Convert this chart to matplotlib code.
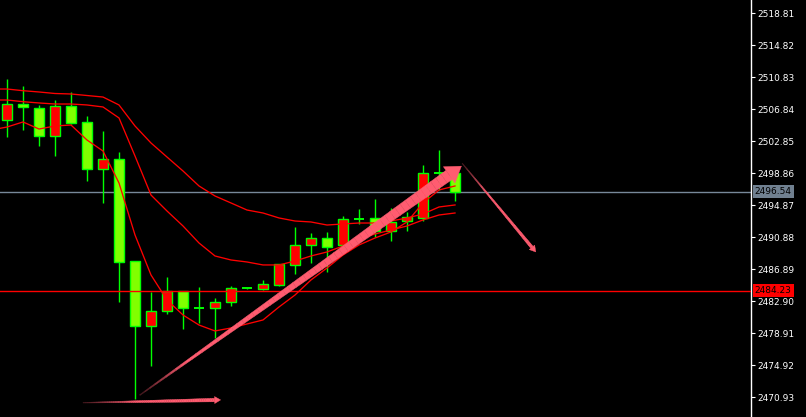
import matplotlib
matplotlib.use("Agg")
import matplotlib.pyplot as plt
import matplotlib.transforms as mtransforms
from matplotlib.patches import Polygon, Rectangle
import numpy as np

# candle data
opens  = [2505.51, 2507.50, 2507.00, 2503.51, 2507.25, 2505.26, 2499.40, 2500.64, 2487.92, 2479.82,
          2481.69, 2484.18, 2482.10, 2482.06, 2482.81, 2484.56, 2484.43, 2484.93, 2487.43, 2489.92,
          2490.79, 2489.92, 2493.16, 2493.29, 2491.67, 2492.91, 2493.29, 2498.90, 2498.90]
highs  = [2510.62, 2509.75, 2507.40, 2508.00, 2509.00, 2506.00, 2504.13, 2501.52, 2487.92, 2484.06,
          2485.93, 2484.18, 2484.68, 2483.31, 2484.81, 2484.56, 2485.56, 2487.55, 2492.16, 2491.42,
          2491.54, 2493.54, 2494.41, 2495.66, 2494.53, 2494.03, 2499.89, 2501.76, 2499.30]
lows   = [2503.39, 2504.26, 2502.26, 2501.02, 2505.00, 2497.90, 2495.16, 2482.81, 2470.72, 2474.83,
          2481.32, 2479.45, 2480.19, 2478.32, 2482.31, 2484.45, 2484.31, 2484.81, 2486.30, 2487.68,
          2486.55, 2489.80, 2492.54, 2490.92, 2490.42, 2491.67, 2492.91, 2496.78, 2495.41]
closes = [2507.50, 2507.13, 2503.51, 2507.25, 2505.13, 2499.40, 2500.64, 2487.80, 2479.82, 2481.69,
          2484.18, 2482.06, 2482.06, 2482.81, 2484.56, 2484.45, 2485.06, 2487.55, 2489.92, 2490.79,
          2489.67, 2493.16, 2493.12, 2491.67, 2492.79, 2493.41, 2498.90, 2498.88, 2496.54]

# three moving averages, first value is the bar before the first visible candle
ma_slow = [2509.37, 2509.37, 2509.16, 2509.00, 2508.81, 2508.75, 2508.56, 2508.37, 2507.38, 2504.76,
           2502.64, 2500.89, 2499.15, 2497.28, 2496.03, 2495.16, 2494.28, 2493.91, 2493.29, 2492.91,
           2492.79, 2492.41, 2492.54, 2492.66, 2492.66, 2492.91, 2493.29, 2493.78, 2494.66, 2494.91]
ma_mid  = [2508.00, 2508.00, 2507.79, 2507.63, 2507.50, 2507.50, 2507.38, 2507.13, 2505.76, 2501.02,
           2496.15, 2494.16, 2492.29, 2490.17, 2488.55, 2488.05, 2487.80, 2487.43, 2487.43, 2487.92,
           2488.55, 2489.05, 2489.79, 2490.67, 2491.29, 2491.79, 2492.29, 2493.04, 2493.66, 2493.91]
ma_fast = [2504.26, 2504.63, 2505.26, 2504.38, 2504.76, 2504.88, 2503.01, 2501.64, 2497.65, 2491.17,
           2486.18, 2483.06, 2481.19, 2479.94, 2479.20, 2479.57, 2480.07, 2480.57, 2482.19, 2483.68,
           2485.56, 2487.05, 2488.67, 2489.92, 2490.79, 2491.54, 2492.79, 2495.16, 2496.78, 2497.28]

price_ticks = [2518.81, 2514.82, 2510.83, 2506.84, 2502.85, 2498.86, 2494.87,
               2490.88, 2486.89, 2482.90, 2478.91, 2474.92, 2470.93]
bid_price = 2496.54
level_price = 2484.23

# drawn arrows: (bar index, price) of tail and tip
arrow_up    = [(8.3, 2471.2), (28.4, 2499.75)]
arrow_down  = [(28.45, 2500.1), (33.05, 2489.05)]
arrow_horiz = [(4.75, 2470.25), (13.35, 2470.6)]

bull_fill = "#ff0000"
bear_fill = "#80ff00"
edge = "#00ff00"
pink = np.array([1.0, 0.36, 0.44])

fig = plt.figure(figsize=(8.06, 4.17), dpi=100, facecolor="black")
ax = fig.add_axes([0, 0, 751 / 806, 1])
ax.set_facecolor("black")
ax.set_xlim(-0.4375, 46.5)
ax.set_ylim(2468.47, 2520.47)

for s in ["left", "top", "bottom"]:
    ax.spines[s].set_visible(False)
ax.spines["right"].set_color("white")
ax.spines["right"].set_linewidth(1)
ax.set_xticks([])
ax.yaxis.tick_right()
ax.set_yticks(price_ticks)
ax.set_yticklabels([f"{p:.2f}" for p in price_ticks])
ax.tick_params(axis="y", colors="white", length=3, width=0.8, pad=1.5, labelsize=6.5)

# horizontal lines
ax.axhline(bid_price, color="#778899", lw=1.0, zorder=1)
ax.axhline(level_price, color="red", lw=1.0, zorder=4)

# candles
bw = 0.62
for i in range(len(opens)):
    o, h, l, c = opens[i], highs[i], lows[i], closes[i]
    ax.vlines(i, l, h, color=edge, lw=1.0, zorder=2)
    lo, hi = min(o, c), max(o, c)
    if hi - lo < 0.15:
        ax.hlines((o + c) / 2, i - bw / 2, i + bw / 2, color=edge, lw=1.4, zorder=3)
    else:
        fc = bull_fill if c > o else bear_fill
        ax.add_patch(Rectangle((i - bw / 2, lo), bw, hi - lo, facecolor=fc,
                               edgecolor=edge, lw=1.0, zorder=3))

# moving averages
ma_x = np.arange(-1, len(opens))
for ma in (ma_slow, ma_mid, ma_fast):
    ax.plot(ma_x, ma, color="red", lw=0.95, zorder=3.5)


def taper_arrow(p0, p1, w0, w1, head_w, head_len, fade, n=60):
    fig.canvas.draw()
    a = np.array(ax.transData.transform(p0))
    b = np.array(ax.transData.transform(p1))
    d = b - a
    u = d / np.hypot(*d)
    nrm = np.array([-u[1], u[0]])
    base = b - u * head_len
    ts = np.linspace(0, 1, n + 1)
    for k in range(n):
        t0, t1 = ts[k], ts[k + 1]
        c0 = a + (base - a) * t0
        c1 = a + (base - a) * t1
        h0 = (w0 + (w1 - w0) * t0) / 2
        h1 = (w0 + (w1 - w0) * t1) / 2
        f = min(1.0, (t0 + 0.5 / n) / fade) if fade > 0 else 1.0
        col = tuple(pink * (0.25 + 0.75 * f))
        poly = [c0 + nrm * h0, c1 + nrm * h1, c1 - nrm * h1, c0 - nrm * h0]
        ax.add_patch(Polygon(poly, closed=True, transform=mtransforms.IdentityTransform(),
                             facecolor=col, edgecolor=col, lw=0.3, zorder=6))
    head = [base + nrm * head_w / 2, b, base - nrm * head_w / 2]
    ax.add_patch(Polygon(head, closed=True, transform=mtransforms.IdentityTransform(),
                         facecolor=tuple(pink), edgecolor=tuple(pink), lw=0.3, zorder=6))


taper_arrow(arrow_up[0], arrow_up[1], 0.8, 11, 20, 15, 0.15)
taper_arrow(arrow_down[0], arrow_down[1], 0.6, 3, 7, 6, 0.35)
taper_arrow(arrow_horiz[0], arrow_horiz[1], 0.6, 3.5, 7, 6, 0.4)

# price labels on the axis
trans = mtransforms.blended_transform_factory(ax.transAxes, ax.transData)
ax.text(1.005, bid_price, f"{bid_price:.2f}", transform=trans, ha="left", va="center",
        fontsize=6.5, color="black", clip_on=False, zorder=10,
        bbox=dict(facecolor="#708090", edgecolor="none", pad=1.4))
ax.text(1.005, level_price, f"{level_price:.2f}", transform=trans, ha="left", va="center",
        fontsize=6.5, color="black", clip_on=False, zorder=10,
        bbox=dict(facecolor="#ff0000", edgecolor="none", pad=1.4))

fig.savefig("out.png", dpi=100, facecolor="black")
